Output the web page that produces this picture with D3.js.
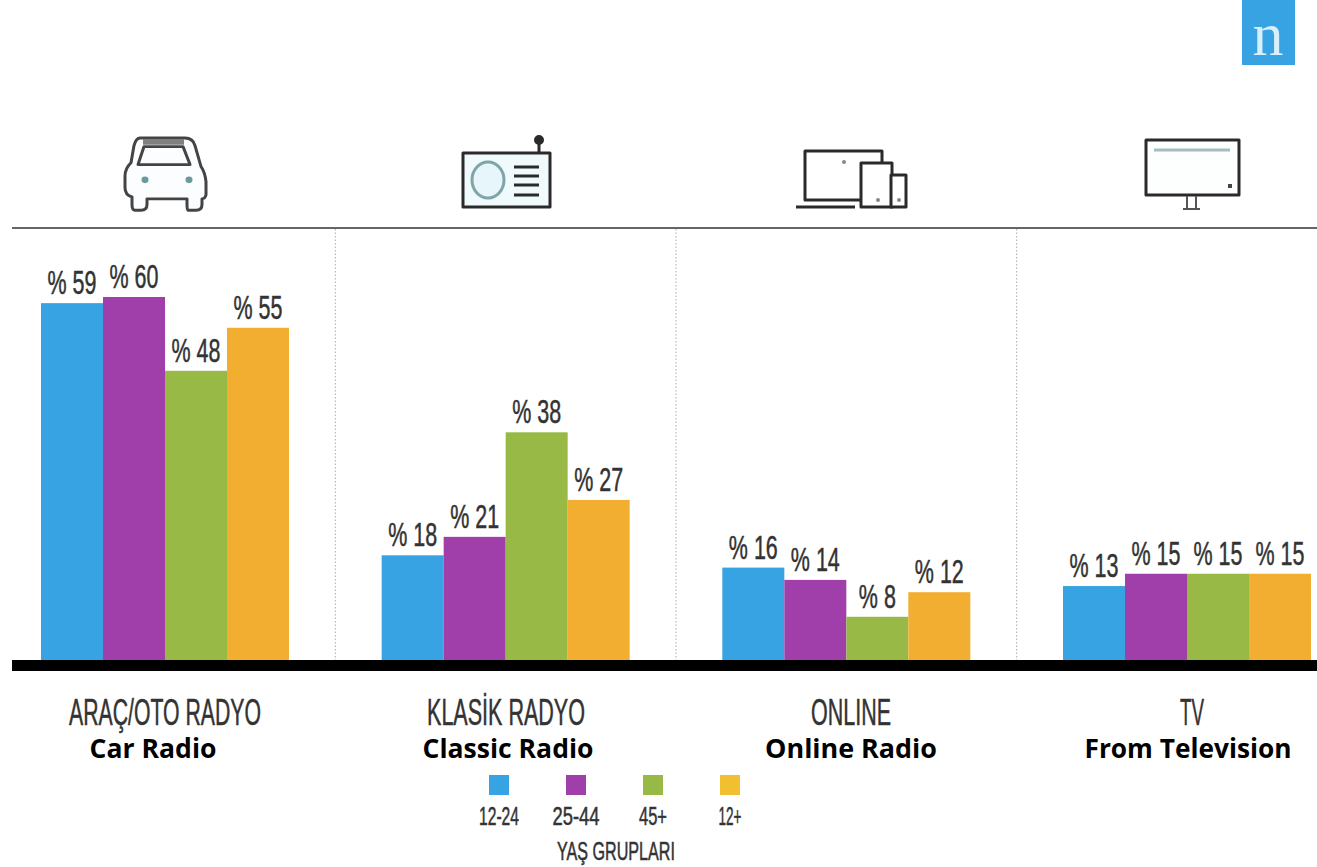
<!DOCTYPE html>
<html>
<head>
<meta charset="utf-8">
<script src="https://cdn.jsdelivr.net/npm/d3@7/dist/d3.min.js"></script>
<style>
html,body{margin:0;padding:0;background:#fff;overflow:hidden}
svg{display:block}
.narrow{font-family:"Liberation Sans Narrow","Liberation Sans",sans-serif;fill:#333;stroke:#333;stroke-width:.5}
.english{font-family:"Open Sans","Noto Sans",sans-serif;font-weight:700;fill:#000}
</style>
</head>
<body>
<svg id="chart" width="1317" height="867"></svg>
<script>
// Radio listening by platform and age group
const categories = ["ARAÇ/OTO RADYO", "KLASİK RADYO", "ONLINE", "TV"];
const categoriesEnglish = ["Car Radio", "Classic Radio", "Online Radio", "From Television"];
const ageGroups = ["12-24", "25-44", "45+", "12+"];
const groupColors = ["#38a3e2", "#a03fa9", "#98b946", "#f2ae30"];
const values1224 = [59, 18, 16, 13];
const values2544 = [60, 21, 14, 15];
const values45 = [48, 38, 8, 15];
const values12 = [55, 27, 12, 15];
const seriesValues = [values1224, values2544, values45, values12];
const legendTitle = "YAŞ GRUPLARI";

const svg = d3.select("#chart");
const baseline = 666;

const x0 = d3.scaleBand().domain(categories).range([41, 1311]).paddingInner(0.272);
const x1 = d3.scaleBand().domain(ageGroups).range([0, x0.bandwidth()]);
const y = d3.scaleLinear().domain([0, 60]).range([baseline, 297]);
const color = d3.scaleOrdinal().domain(ageGroups).range(groupColors);

// Squeeze each text horizontally around its anchor to reach a target width
function fitWidth(sel, xFn, yFn, widthFn) {
  sel.each(function (d, i) {
    const k = widthFn(d, i) / this.getComputedTextLength();
    d3.select(this).attr("transform", `translate(${xFn(d, i)},${yFn(d, i)}) scale(${k},1)`);
  });
}
function narrowText(sel, size, xFn, yFn, widthFn) {
  sel.attr("class", "narrow").attr("text-anchor", "middle").attr("font-size", size);
  sel.call(fitWidth, xFn, yFn, widthFn);
}

// Bars
const groups = svg.selectAll("g.group").data(categories).join("g")
  .attr("class", "group")
  .attr("transform", d => `translate(${x0(d)},0)`);

groups.each(function (cat, ci) {
  const rows = ageGroups.map((g, si) => ({ g, v: seriesValues[si][ci] }));
  const sel = d3.select(this);
  sel.selectAll("rect").data(rows).join("rect")
    .attr("x", d => x1(d.g))
    .attr("y", d => y(d.v))
    .attr("width", x1.bandwidth())
    .attr("height", d => baseline - y(d.v))
    .attr("fill", d => color(d.g));
  sel.selectAll("text").data(rows).join("text")
    .text(d => "% " + d.v)
    .call(narrowText, 33,
      d => x1(d.g) + x1.bandwidth() / 2,
      d => y(d.v) - 9,
      d => d.v < 10 ? 37 : 49);
});

// Rules: header rule, dotted separators, heavy baseline
svg.append("line").attr("x1", 12).attr("x2", 1317).attr("y1", 228).attr("y2", 228)
  .attr("stroke", "#666").attr("stroke-width", 2);

const separators = categories.slice(1).map(c => x0(c) - x0.step() * 0.136);
svg.selectAll("line.sep").data(separators).join("line")
  .attr("class", "sep")
  .attr("x1", d => d).attr("x2", d => d)
  .attr("y1", 229).attr("y2", 660)
  .attr("stroke", "#aaa").attr("stroke-width", 1).attr("stroke-dasharray", "1.5 2");

svg.append("rect").attr("x", 12).attr("y", 660).attr("width", 1305).attr("height", 11).attr("fill", "#000");

// Category captions
const captionWidths = [192, 158, 80, 24];
const captionCenters = [165, 506, 851, 1192];
svg.selectAll("text.cap").data(categories).join("text")
  .text(d => d)
  .call(narrowText, 37, (d, i) => captionCenters[i], () => 725, (d, i) => captionWidths[i]);

const englishCenters = [153, 508, 851, 1188];
const englishWidths = [127, 171, 172, 207];
svg.selectAll("text.eng").data(categoriesEnglish).join("text")
  .attr("class", "english")
  .attr("text-anchor", "middle")
  .attr("font-size", 27)
  .text(d => d)
  .call(fitWidth, (d, i) => englishCenters[i], () => 758, (d, i) => englishWidths[i]);

// Legend
const legendX = d3.scalePoint().domain(ageGroups).range([499, 730]);
svg.selectAll("rect.key").data(ageGroups).join("rect")
  .attr("class", "key")
  .attr("x", d => legendX(d) - 10).attr("y", 775)
  .attr("width", 20).attr("height", 20)
  .attr("fill", (d, i) => i === 3 ? "#f0c030" : color(d));
svg.selectAll("text.keylabel").data(ageGroups).join("text")
  .text(d => d)
  .call(narrowText, 25, d => legendX(d), () => 825, (d, i) => [40, 47, 28, 23][i]);
svg.append("text").text(legendTitle)
  .call(narrowText, 25, () => 616, () => 860, () => 118);

// Brand mark
svg.append("rect").attr("x", 1242).attr("y", 0).attr("width", 53).attr("height", 65).attr("fill", "#38a3e2");
svg.append("text").attr("x", 1268).attr("y", 55).attr("text-anchor", "middle")
  .attr("font-family", "Liberation Serif, serif").attr("font-size", 62).attr("fill", "#d8f0fb").text("n");

// Platform icons
const icon = (tx, ty) => svg.append("g").attr("transform", `translate(${tx},${ty})`)
  .attr("fill", "none").attr("stroke", "#2a2a2a").attr("stroke-width", 3).attr("stroke-linejoin", "round");

// Car
const car = icon(165, 138).attr("transform", "translate(165,138) scale(1,.95)").attr("stroke", "#444");
car.append("path").attr("fill", "#fbfdfe")
  .attr("d", "M-25,0 H20 Q28,0 30,8 L36,30 Q40,36 41,46 V60 Q40,64 37,64 V70 Q37,76 31,76 H23 Q22,76 22,70 V64 H-18 V70 Q-18,76 -24,76 H-30 Q-33,76 -33,70 V62 Q-40,60 -40,52 V40 Q-40,32 -34,26 L-31,8 Q-29,0 -25,0 Z");
car.append("path").attr("d", "M-27,28 L-21,9 H18 L25,28 Z");
car.append("path").attr("stroke-width", 6).attr("stroke", "#808080").attr("d", "M-22,4 H19");
car.selectAll("circle").data([-20, 24]).join("circle")
  .attr("cx", d => d).attr("cy", 44).attr("r", 3.5).attr("fill", "#6a9aa0").attr("stroke", "none");

// Radio
const radio = icon(463, 153);
radio.append("rect").attr("width", 87).attr("height", 54).attr("fill", "#f0f9fc");
radio.append("ellipse").attr("cx", 25).attr("cy", 27).attr("rx", 16).attr("ry", 18).attr("stroke", "#7fa5a8").attr("fill", "#e6f6fb");
radio.selectAll("line.gr").data([14, 23, 32, 42]).join("line")
  .attr("x1", 51).attr("x2", 76).attr("y1", d => d).attr("y2", d => d).attr("stroke-width", 3);
radio.append("line").attr("x1", 76).attr("x2", 76).attr("y1", 0).attr("y2", -12);
radio.append("circle").attr("cx", 76).attr("cy", -13).attr("r", 3.5).attr("fill", "#2a2a2a");

// Laptop, tablet, phone
const dev = icon(805, 151);
dev.append("path").attr("d", "M77,11 V0 H0 V49 H56");
dev.append("line").attr("x1", -9).attr("x2", 50).attr("y1", 56).attr("y2", 56);
dev.append("rect").attr("x", 56).attr("y", 12).attr("width", 31).attr("height", 44).attr("fill", "#fff");
dev.append("rect").attr("x", 86).attr("y", 24).attr("width", 15).attr("height", 32).attr("fill", "#fff");
dev.selectAll("circle").data([73, 94]).join("circle")
  .attr("cx", d => d).attr("cy", 49).attr("r", 2).attr("fill", "#888").attr("stroke", "none");
dev.append("circle").attr("cx", 39).attr("cy", 11).attr("r", 2).attr("fill", "#888").attr("stroke", "none");

// Television
const tv = icon(1146, 140);
tv.append("rect").attr("width", 93).attr("height", 55).attr("fill", "#fdfefe");
tv.append("line").attr("x1", 8).attr("x2", 84).attr("y1", 10).attr("y2", 10).attr("stroke", "#a8bcc0").attr("stroke-width", 3);
tv.append("rect").attr("x", 82).attr("y", 44).attr("width", 4).attr("height", 4).attr("fill", "#444").attr("stroke", "none");
tv.append("path").attr("stroke-width", 2).attr("stroke", "#555").attr("d", "M41,56 V68 M50,56 V68 M37,69 H54");
</script>
</body>
</html>
